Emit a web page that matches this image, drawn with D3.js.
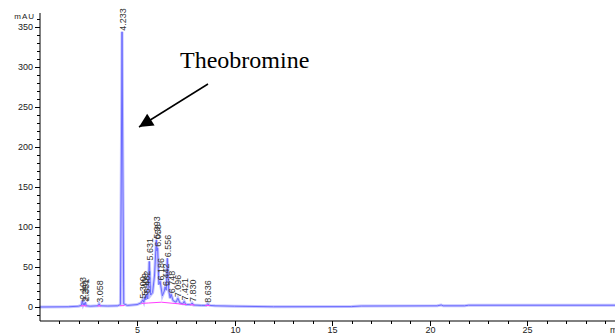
<!DOCTYPE html>
<html>
<head>
<meta charset="utf-8">
<script src="https://cdn.jsdelivr.net/npm/d3@7"></script>
<style>
  html, body { margin: 0; padding: 0; background: #fff; }
  svg { display: block; }
</style>
</head>
<body>
<div id="chart"></div>
<script>
const WIDTH  = 615;
const HEIGHT = 334;

// detector trace, [minutes, mAU]
const TRACE = [
  [0, 0], [1.5, 0.3], [2.0, 1], [2.15, 2], [2.193, 8], [2.24, 2.5], [2.291, 5],
  [2.32, 2], [2.351, 6], [2.40, 1.5], [2.6, 1], [3.0, 1.5], [3.058, 4], [3.12, 1.5],
  [3.5, 1.2], [4.0, 1.5], [4.15, 3], [4.20, 190], [4.233, 344], [4.27, 190],
  [4.32, 4], [4.5, 2], [5.0, 3], [5.2, 5], [5.30, 9], [5.35, 6], [5.409, 13],
  [5.45, 9], [5.482, 16], [5.55, 10], [5.631, 57], [5.70, 15], [5.80, 18],
  [5.90, 40], [5.993, 84], [6.02, 70], [6.058, 74], [6.12, 28], [6.186, 32],
  [6.30, 14], [6.40, 20], [6.442, 25], [6.50, 21], [6.556, 61], [6.63, 20],
  [6.70, 11], [6.748, 16], [6.85, 8], [7.0, 6], [7.096, 11], [7.2, 5], [7.35, 4],
  [7.421, 7], [7.5, 3], [7.75, 3], [7.830, 5], [7.9, 2.5], [8.3, 2], [8.55, 2],
  [8.636, 4], [8.72, 2], [9, 1.5], [10, 1], [12, 0.3], [16, 0.5], [16.5, 1.2],
  [20.4, 1.5], [20.6, 2.5], [20.7, 1.5], [21.8, 1.5], [22, 2.2], [30, 2.2]
];

// integrated peaks: retention time label, apex height
const PEAK_TIMES   = ['2.193', '2.291', '2.351', '3.058', '4.233', '5.300', '5.409',
                      '5.482', '5.631', '5.993', '6.058', '6.186', '6.442', '6.556',
                      '6.748', '7.096', '7.421', '7.830', '8.636'];
const PEAK_HEIGHTS = [8, 5, 6, 4, 344, 9, 13, 16, 57, 84, 74, 32, 25, 61, 16, 11, 7, 5, 4];

// integration baselines [t1, v1, t2, v2]
const BASELINES = [
  [2.12, 1.5, 2.42, 1.5], [2.98, 1.4, 3.15, 1.4], [4.12, 1.5, 4.36, 1.8],
  [5.22, 4.5, 5.58, 5], [5.58, 5, 6.25, 6], [6.25, 6, 6.9, 4.5],
  [6.9, 4.5, 7.55, 3], [7.7, 2.8, 7.95, 2.5], [8.5, 2, 8.75, 2]
];

const X_TICKS  = [5, 10, 15, 20, 25];
const Y_TICKS  = [0, 50, 100, 150, 200, 250, 300, 350];

const COLORS = {
  trace:    '#6a6aff',
  halo:     '#c4c4ff',
  baseline: '#ff3cff',
  axis:     '#000'
};



var x = d3.scaleLinear()
  .domain([0, 30])
  .range([39.5, 624.5]);
var y = d3.scaleLinear()
  .domain([-17.5, 367.5])
  .range([321, 13]);

var svg = d3.select('#chart').append('svg')
  .attr('width', WIDTH)
  .attr('height', HEIGHT)
  .style('font-family', 'Liberation Sans, Arial, sans-serif');

var line = d3.line()
  .x(d => x(d[0]))
  .y(d => y(d[1]));

// Trace
svg.append('path')
  .datum(TRACE)
  .attr('d', line)
  .style('fill', 'none')
  .style('stroke', COLORS.halo)
  .style('stroke-width', 3);
svg.append('path')
  .datum(TRACE)
  .attr('d', line)
  .style('fill', 'none')
  .style('stroke', COLORS.trace)
  .style('stroke-width', 1);

// Integration baselines
svg.selectAll('.baseline')
    .data(BASELINES)
  .enter().append('line')
    .attr('class', 'baseline')
    .attr('x1', d => x(d[0]))
    .attr('y1', d => y(d[1]))
    .attr('x2', d => x(d[2]))
    .attr('y2', d => y(d[3]))
    .style('stroke', COLORS.baseline)
    .style('stroke-width', 1);

// Peak labels
svg.selectAll('.peak')
    .data(PEAK_TIMES)
  .enter().append('text')
    .attr('class', 'peak')
    .attr('transform', (d, i) => `translate(${x(+d) + 3.5},${y(PEAK_HEIGHTS[i]) - 1}) rotate(-90)`)
    .attr('font-size', 9)
    .style('fill', '#333')
    .text(d => d);

// Y axis
var yAxis = svg.append('g')
  .attr('transform', 'translate(40,0)');
yAxis.append('line')
  .attr('x1', 0).attr('x2', 0)
  .attr('y1', 13).attr('y2', 321)
  .style('stroke', COLORS.axis);
yAxis.selectAll('.minor')
    .data(d3.range(-10, 361, 10))
  .enter().append('line')
    .attr('x1', -3).attr('x2', 0)
    .attr('y1', d => Math.round(y(d)) + 0.5)
    .attr('y2', d => Math.round(y(d)) + 0.5)
    .style('stroke', COLORS.axis);
yAxis.selectAll('.major')
    .data(Y_TICKS)
  .enter().append('g')
    .attr('transform', d => `translate(0,${Math.round(y(d)) + 0.5})`)
  .each(function(d) {
    d3.select(this).append('line')
      .attr('x1', -5).attr('x2', 0)
      .style('stroke', COLORS.axis);
    d3.select(this).append('text')
      .attr('x', -7)
      .attr('dy', '0.33em')
      .attr('text-anchor', 'end')
      .attr('font-size', 9)
      .style('fill', '#222')
      .text(d);
  });
svg.append('text')
  .attr('x', 35)
  .attr('y', 19)
  .attr('text-anchor', 'end')
  .attr('font-size', 8)
  .attr('letter-spacing', 1)
  .style('fill', '#222')
  .text('mAU');

// X axis
var xAxis = svg.append('g')
  .attr('transform', 'translate(0,321)');
xAxis.append('line')
  .attr('x1', 40).attr('x2', WIDTH)
  .style('stroke', COLORS.axis);
xAxis.selectAll('.minor')
    .data(d3.range(1, 30))
  .enter().append('line')
    .attr('x1', d => Math.round(x(d)) + 0.5)
    .attr('x2', d => Math.round(x(d)) + 0.5)
    .attr('y1', 0).attr('y2', 3)
    .style('stroke', COLORS.axis);
xAxis.selectAll('.major')
    .data(X_TICKS)
  .enter().append('g')
    .attr('transform', d => `translate(${Math.round(x(d)) + 0.5},0)`)
  .each(function(d) {
    d3.select(this).append('line')
      .attr('y1', 0).attr('y2', 5)
      .style('stroke', COLORS.axis);
    d3.select(this).append('text')
      .attr('y', 12)
      .attr('text-anchor', 'middle')
      .attr('font-size', 9)
      .style('fill', '#222')
      .text(d);
  });
xAxis.append('text')
  .attr('x', 610)
  .attr('y', 12)
  .attr('font-size', 9)
  .style('fill', '#222')
  .text('min');

// Annotation
svg.append('defs').append('marker')
  .attr('id', 'head')
  .attr('viewBox', '0 0 10 10')
  .attr('refX', 10).attr('refY', 5)
  .attr('markerWidth', 17).attr('markerHeight', 14)
  .attr('markerUnits', 'userSpaceOnUse')
  .attr('orient', 'auto')
  .append('path')
    .attr('d', 'M0,0 L10,5 L0,10 Z')
    .style('fill', '#000');
svg.append('line')
  .attr('x1', 208).attr('y1', 84)
  .attr('x2', 139).attr('y2', 127)
  .attr('marker-end', 'url(#head)')
  .style('stroke', '#000')
  .style('stroke-width', 1.5);
svg.append('text')
  .attr('x', 180)
  .attr('y', 68)
  .attr('font-family', 'Liberation Serif, Times New Roman, serif')
  .attr('font-size', 24)
  .style('fill', '#000')
  .text('Theobromine');
</script>
</body>
</html>
